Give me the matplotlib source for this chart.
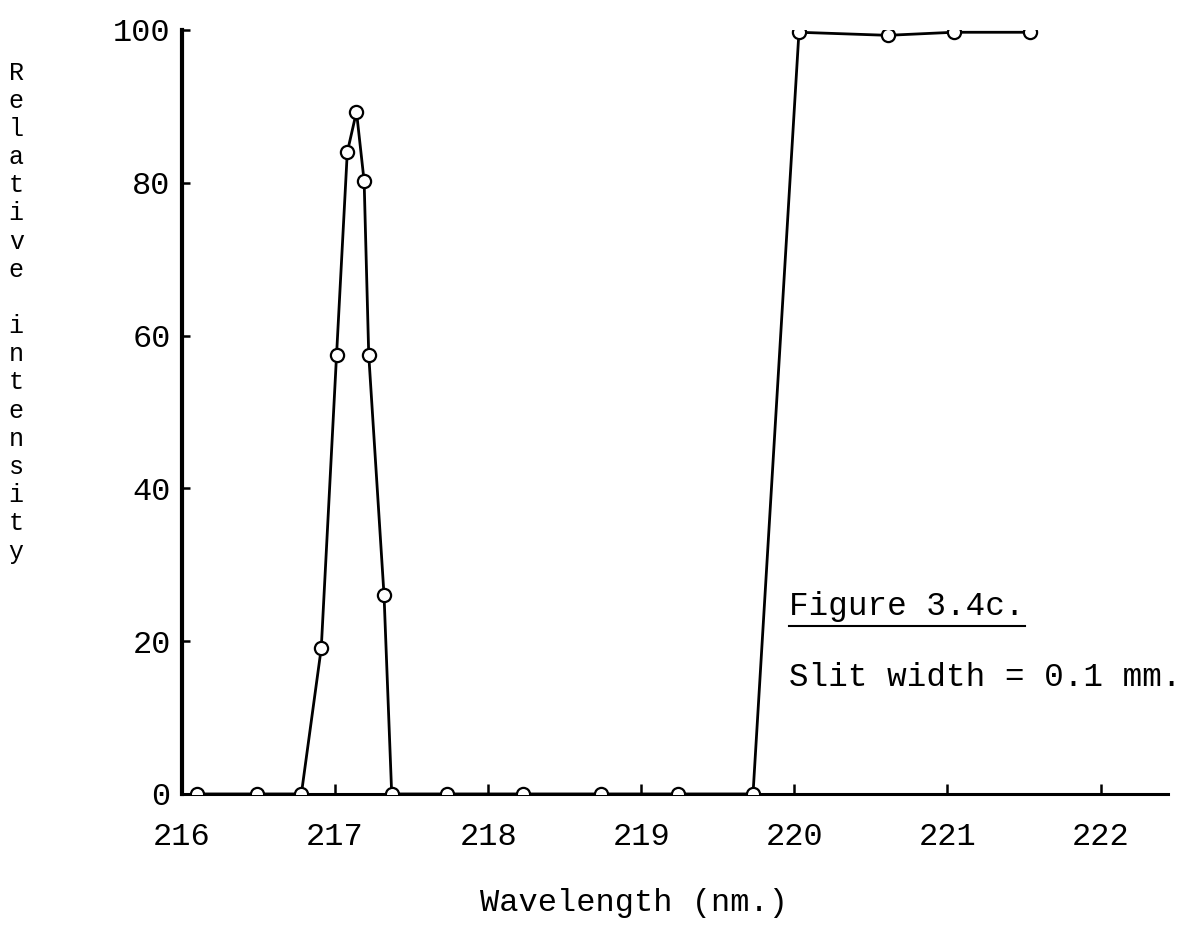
import matplotlib
matplotlib.use("Agg")
import matplotlib.pyplot as plt
from matplotlib.lines import Line2D

plt.rcParams['font.family'] = ['Liberation Mono', 'DejaVu Sans Mono']

# slit width 0.1 mm scan
wavelength = [216.10, 216.49, 216.78, 216.91, 217.01, 217.08, 217.14, 217.19,
              217.22, 217.32, 217.37, 217.73, 218.23, 218.74, 219.24, 219.73,
              220.03, 220.61, 221.04, 221.54]
intensity = [0, 0, 0, 19.1, 57.5, 84.0, 89.3, 80.2,
             57.5, 26.0, 0, 0, 0, 0, 0, 0,
             99.7, 99.3, 99.7, 99.7]

x_ticks = [216, 217, 218, 219, 220, 221, 222]
y_ticks = [0, 20, 40, 60, 80, 100]

fig = plt.figure(figsize=(11.97, 9.31), dpi=100)
ax = fig.add_axes([0.152, 0.1472, 0.8237, 0.8206])

ax.plot(wavelength, intensity, color='black', lw=2.0,
        marker='o', ms=9.5, mfc='white', mec='black', mew=1.6, zorder=3)

ax.set_xlim(216.02, 222.44)
ax.set_ylim(0, 100)
ax.set_xticks(x_ticks)
ax.set_yticks(y_ticks)

for side in ['top', 'right']:
    ax.spines[side].set_visible(False)
ax.spines['left'].set_linewidth(3)
ax.spines['bottom'].set_linewidth(2.2)

ax.tick_params(axis='x', direction='in', length=7, width=1.8, pad=20, labelsize=23)
ax.tick_params(axis='y', direction='in', length=6, width=1.8, pad=8, labelsize=23)

ax.set_xlabel('Wavelength (nm.)', fontsize=23)
ax.xaxis.set_label_coords(0.458, -0.123)

# vertical stacked axis title
fig.text(0.0135, 0.935, '\n'.join('Relative intensity'), fontsize=18,
         ha='center', va='top', linespacing=1.22)

fig_txt = ax.text(0.616, 0.245, 'Figure 3.4c.', transform=ax.transAxes,
                  fontsize=23.5, ha='left', va='center')
ax.text(0.616, 0.153, 'Slit width = 0.1 mm.', transform=ax.transAxes,
        fontsize=23.5, ha='left', va='center')

# underline the figure caption
fig.canvas.draw()
bb = fig_txt.get_window_extent().transformed(fig.transFigure.inverted())
fig.add_artist(Line2D([bb.x0, bb.x1], [bb.y0 - 0.004, bb.y0 - 0.004],
                      transform=fig.transFigure, color='black', lw=1.5))

fig.savefig('out.png', dpi=100, facecolor='white')
